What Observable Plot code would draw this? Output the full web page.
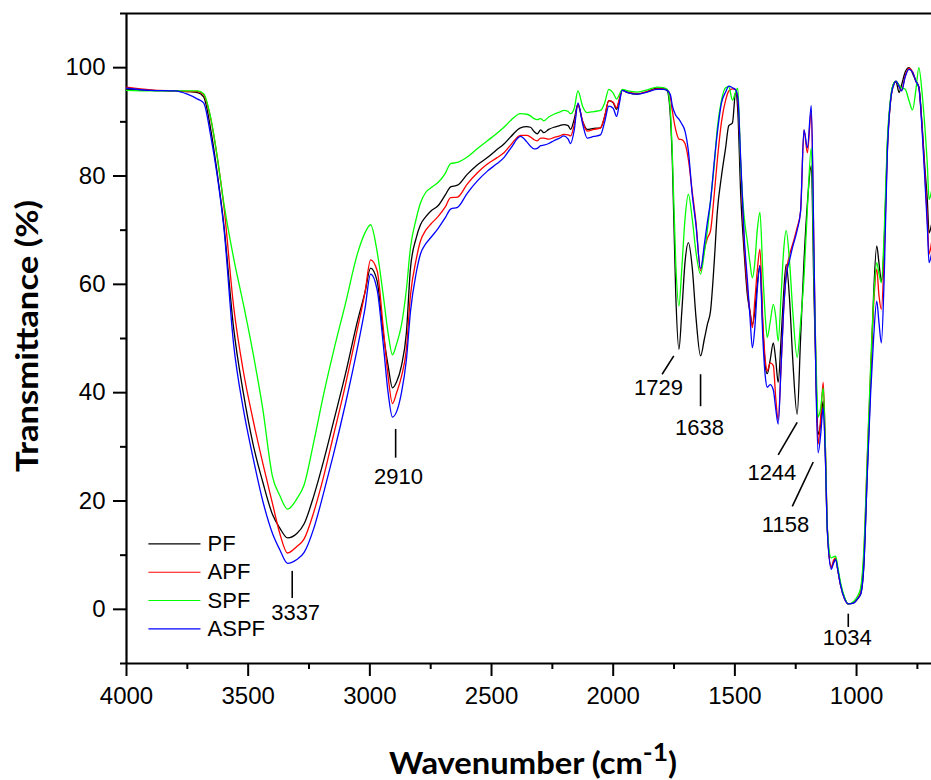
<!DOCTYPE html>
<html><head><meta charset="utf-8">
<script src="https://cdn.jsdelivr.net/npm/d3@7"></script>
<script src="https://cdn.jsdelivr.net/npm/@observablehq/plot@0.6"></script>
<style>
html,body{margin:0;padding:0;background:#fff;}
#chart svg{display:block;}
</style>
</head><body><div id="chart"></div>
<script>
const wavenumbers = [4000,3900,3800,3750,3708,3683,3655,3627,3600,3560,
 3520,3480,3440,3400,3370,3338,3300,3270,3230,3190,
 3150,3100,3050,3020,2997,2970,2945,2925,2907,2890,
 2870,2850,2833,2810,2792,2770,2750,2720,2690,2668,
 2640,2600,2560,2517,2480,2449,2420,2381,2355,2340,
 2325,2312,2298,2285,2265,2244,2220,2203,2185,2175,
 2160,2145,2125,2107,2080,2052,2035,2018,2000,1986,
 1975,1963,1940,1901,1860,1819,1795,1778,1765,1757,
 1743,1730,1718,1705,1691,1675,1660,1641,1625,1613,
 1600,1585,1572,1555,1538,1525,1510,1497,1488,1476,
 1462,1449,1438,1428,1418,1408,1397,1385,1375,1367,
 1355,1342,1332,1322,1310,1300,1289,1275,1262,1244,
 1230,1216,1202,1186,1175,1166,1158,1148,1137,1128,
 1120,1104,1095,1086,1076,1066,1050,1034,1011,995,
 983,970,956,942,930,917,908,898,886,874,
 860,846,838,825,815,800,785,770,756,744,
 730,720,709,702,692];

const PF = [96.0,95.8,95.7,95.6,95.4,94.6,88.9,80.5,71.0,52.0,
 40.0,30.5,23.5,17.5,15.0,13.2,14.0,15.8,21.0,27.4,
 34.5,43.5,53.4,58.5,63.0,60.6,51.0,45.0,40.9,42.0,
 45.0,51.0,63.0,68.5,71.0,72.5,73.5,74.5,76.5,78.0,
 78.3,80.3,82.0,83.4,84.8,85.9,87.3,88.9,89.1,89.0,
 88.2,87.8,88.5,88.0,88.6,89.0,89.3,89.5,89.3,88.6,
 90.5,93.2,90.0,88.6,88.8,88.9,91.0,93.9,93.5,92.3,
 94.0,95.8,95.4,95.1,95.6,96.2,96.2,95.7,91.0,82.8,
 58.2,48.0,55.0,64.0,67.7,63.0,54.0,46.8,50.0,52.6,
 55.1,64.0,73.5,80.0,85.2,89.3,89.8,95.5,92.0,76.6,
 66.0,58.2,55.0,52.6,55.0,60.0,63.5,52.0,45.0,43.5,
 46.0,49.2,46.0,41.9,50.0,58.0,63.7,57.0,46.0,36.0,
 50.0,64.3,75.0,81.9,58.2,42.0,32.3,34.0,38.5,28.0,
 14.5,7.8,8.5,9.3,7.0,4.6,2.2,1.0,1.2,2.0,
 2.8,8.0,25.0,42.0,58.0,67.1,64.0,60.6,68.0,85.0,
 94.0,97.2,97.4,95.4,96.8,99.2,100.0,99.0,97.5,96.5,
 89.0,82.0,75.4,69.5,71.0];

const APF = [96.4,95.9,95.7,95.6,95.6,95.0,90.8,83.5,74.5,56.0,
 44.0,35.0,27.0,19.5,14.0,10.4,11.6,13.0,18.0,24.5,
 32.0,41.5,52.0,58.5,64.5,62.5,52.0,43.0,38.0,40.0,
 43.0,48.0,58.0,64.5,68.0,70.0,71.1,72.5,74.3,76.0,
 76.1,78.5,80.5,82.2,83.3,84.3,85.8,87.5,87.5,87.2,
 86.7,86.5,87.0,87.0,86.8,87.1,87.4,87.7,87.6,87.4,
 89.5,93.2,90.0,88.3,88.6,88.9,91.0,93.9,93.6,92.6,
 94.2,95.8,95.5,95.2,95.6,96.1,96.1,95.9,94.5,92.0,
 88.5,86.8,86.7,86.0,83.0,77.0,71.5,62.5,66.5,68.5,
 69.9,76.5,83.0,90.0,94.0,95.7,96.1,96.0,94.0,82.0,
 68.0,59.4,55.0,52.0,57.0,62.5,66.5,53.0,46.0,44.0,
 45.5,45.0,39.0,35.0,45.0,55.0,62.0,65.5,67.5,70.5,
 73.5,88.5,84.3,92.0,66.0,42.0,30.5,35.0,41.9,30.0,
 15.0,7.7,9.0,9.5,7.0,4.5,2.0,1.0,1.3,2.0,
 3.5,10.0,28.0,44.0,56.0,62.8,58.0,55.4,66.0,84.0,
 94.0,97.0,97.5,96.5,95.8,98.5,99.9,99.3,97.5,96.3,
 88.5,81.0,72.0,65.6,67.7];

const SPF = [95.8,95.7,95.7,95.7,95.7,95.2,91.0,83.5,75.0,64.9,
 56.4,47.3,37.0,24.5,21.0,18.5,20.4,23.0,31.0,39.7,
 47.5,56.5,65.8,69.5,71.0,66.0,58.0,51.0,47.0,49.0,
 52.5,59.0,66.8,72.0,75.0,77.0,77.8,78.8,80.5,82.3,
 82.5,83.5,85.0,86.5,87.8,89.0,90.3,91.5,91.4,91.1,
 90.6,90.4,90.6,90.2,90.9,91.4,91.8,92.1,91.9,91.5,
 92.5,95.7,92.8,91.7,91.9,92.1,93.5,96.0,95.3,94.2,
 95.0,96.0,95.7,95.5,95.9,96.4,96.3,96.0,92.0,84.0,
 64.0,56.0,63.0,72.0,76.6,72.0,66.0,61.9,66.0,70.0,
 75.4,82.0,88.9,94.0,96.3,96.5,94.0,95.5,96.2,82.0,
 72.5,68.0,64.0,61.2,64.0,70.0,73.3,62.0,54.0,50.2,
 53.0,56.3,54.0,49.5,58.0,66.0,69.9,64.0,55.0,46.5,
 53.0,61.2,74.0,85.2,62.0,45.0,35.5,37.0,40.9,30.0,
 15.0,9.5,9.7,9.8,7.5,5.0,2.3,1.0,1.5,2.5,
 4.0,11.0,28.0,45.0,57.0,64.0,62.0,60.3,70.0,86.0,
 94.5,97.2,97.5,96.8,96.3,96.0,94.0,92.2,96.0,100.0,
 95.0,89.5,82.0,75.7,77.2];

const ASPF = [96.2,95.8,95.7,95.1,94.2,93.5,87.7,80.0,70.5,49.0,
 37.0,28.0,20.0,14.0,11.0,8.5,9.2,10.5,15.0,21.5,
 28.5,38.0,48.5,55.5,61.9,59.0,49.0,40.0,35.5,36.5,
 40.0,46.0,55.0,62.0,65.6,67.5,68.6,70.3,72.3,73.9,
 74.2,76.8,79.0,80.9,82.2,83.4,85.2,87.3,86.3,85.5,
 85.0,85.1,85.6,85.7,86.0,86.5,87.0,87.4,86.8,86.0,
 88.5,93.5,89.5,87.0,87.3,87.6,90.0,92.9,92.5,91.0,
 93.3,95.8,95.4,95.1,95.5,96.0,96.0,95.8,95.0,93.0,
 91.2,90.5,89.6,88.3,84.6,76.5,71.0,62.9,67.5,71.5,
 75.4,82.5,88.0,93.5,95.5,96.6,96.3,95.9,94.5,83.0,
 69.0,61.0,54.0,48.3,52.0,59.0,63.4,50.0,43.0,41.0,
 41.5,40.5,37.0,34.2,45.0,55.0,61.5,64.5,67.0,70.0,
 73.5,88.5,85.2,93.0,66.0,40.0,28.9,32.0,37.2,28.0,
 14.5,7.4,8.5,9.2,7.0,4.5,2.0,1.0,1.2,2.0,
 2.8,8.3,25.0,40.0,50.0,56.9,53.0,49.2,62.0,83.5,
 94.0,97.0,97.5,96.5,95.7,98.3,99.7,99.2,97.5,96.3,
 88.0,80.0,70.5,64.0,65.6];

const seriesNames = ["PF", "APF", "SPF", "ASPF"];
const seriesValues = [PF, APF, SPF, ASPF];

const yMajorTicks = [0, 20, 40, 60, 80, 100];
const yMinorTicks = [-10, 10, 30, 50, 70, 90, 110];
const xMajorTicks = [4000, 3500, 3000, 2500, 2000, 1500, 1000];
const xMinorTicks = [3750, 3250, 2750, 2250, 1750, 1250, 750];

// peak annotations: label, leader line ends and label centre (wavenumber, transmittance)
const peakLabels = ["3337", "2910", "1729", "1638", "1244", "1158", "1034"];
const leaderX1 = [3319, 2894, 1751, 1641, 1244, 1178, 1034];
const leaderY1 = [7.1, 33.3, 46.8, 43.4, 34.5, 27.2, -0.8];
const leaderX2 = [3319, 2894, 1799, 1641, 1322, 1264, 1034];
const leaderY2 = [2.1, 28.0, 43.4, 37.5, 28.5, 19.0, -3.25];
const labelX = [3305, 2882, 1814, 1645, 1348, 1292, 1038];
const labelY = [-0.7, 24.4, 40.8, 33.4, 25.2, 15.6, -5.2];

// ---- build tables ----
const rows = seriesNames.flatMap((name, s) =>
  wavenumbers.map((w, i) => ({series: name, wn: w, t: seriesValues[s][i]})));
const peaks = peakLabels.map((label, i) => ({
  label, x1: leaderX1[i], y1: leaderY1[i], x2: leaderX2[i], y2: leaderY2[i], tx: labelX[i], ty: labelY[i]
}));

const palette = ["#000000", "#ff0000", "#00ff00", "#0000ff"];
const tickFont = "'Liberation Sans', Arial, Helvetica, sans-serif";
const titleFont = "Lato, 'Open Sans', 'DejaVu Sans', sans-serif";
const plain = d => String(d);

// legend layout (in data units, inside the frame at lower left)
const legX1 = 3910, legX2 = 3696, legTextX = 3667, legY0 = 12.07, legStep = 5.22;

const plot = Plot.plot({
  width: 931,
  height: 780,
  marginLeft: 126,
  marginRight: 0,
  marginTop: 13,
  marginBottom: 117,
  x: {domain: [4000, 692], label: null},
  y: {domain: [-10, 110], label: null},
  color: {domain: seriesNames, range: palette},
  style: {fontFamily: tickFont, fontSize: "24px", background: "white", color: "black"},
  marks: [
    Plot.axisY({ticks: yMajorTicks, tickFormat: plain, tickSize: 13, tickPadding: 8, fontSize: 24, fontFamily: tickFont, strokeWidth: 2, label: null}),
    Plot.axisY({ticks: yMinorTicks, tickSize: 6, tickFormat: () => "", strokeWidth: 2, label: null}),
    Plot.axisX({ticks: xMajorTicks, tickFormat: plain, tickSize: 13, tickPadding: 10, fontSize: 24, fontFamily: tickFont, strokeWidth: 2, label: null}),
    Plot.axisX({ticks: xMinorTicks, tickSize: 6, tickFormat: () => "", strokeWidth: 2, label: null}),
    Plot.ruleX([4000], {strokeWidth: 2.2}),
    Plot.ruleY([-10], {strokeWidth: 2.2}),
    Plot.ruleY([110], {strokeWidth: 2.2}),
    ...seriesNames.map(name => Plot.line(rows.filter(d => d.series === name), {
      x: "wn", y: "t", stroke: "series", strokeWidth: 1.3, curve: "monotone-x"
    })),
    Plot.link(seriesNames, {
      x1: () => legX1, x2: () => legX2,
      y1: (d, i) => legY0 - i * legStep, y2: (d, i) => legY0 - i * legStep,
      stroke: d => d, strokeWidth: 1.2
    }),
    Plot.text(seriesNames, {
      x: () => legTextX, y: (d, i) => legY0 - i * legStep, text: d => d,
      textAnchor: "start", fontSize: 22, fontFamily: tickFont, fill: "black"
    }),
    Plot.link(peaks, {x1: "x1", y1: "y1", x2: "x2", y2: "y2", stroke: "black", strokeWidth: 1.6}),
    Plot.text(peaks, {x: "tx", y: "ty", text: "label", fontSize: 22, fontFamily: tickFont, fill: "black"})
  ]
});

const svg = d3.select(plot);
svg.append("text")
  .attr("transform", "translate(38,336) rotate(-90)")
  .attr("text-anchor", "middle")
  .attr("font-family", titleFont)
  .attr("font-weight", "bold")
  .attr("font-size", 31)
  .attr("textLength", 272)
  .attr("lengthAdjust", "spacingAndGlyphs")
  .attr("fill", "black")
  .text("Transmittance (%)");

const xt = svg.append("text")
  .attr("x", 533)
  .attr("y", 774)
  .attr("text-anchor", "middle")
  .attr("font-family", titleFont)
  .attr("font-weight", "bold")
  .attr("font-size", 31)
  .attr("textLength", 288)
  .attr("lengthAdjust", "spacingAndGlyphs")
  .attr("fill", "black");
xt.append("tspan").text("Wavenumber (cm");
xt.append("tspan").attr("dy", -13).attr("font-size", 25).text("-1");
xt.append("tspan").attr("dy", 13).text(")");

document.getElementById("chart").appendChild(plot);
</script>
</body></html>
